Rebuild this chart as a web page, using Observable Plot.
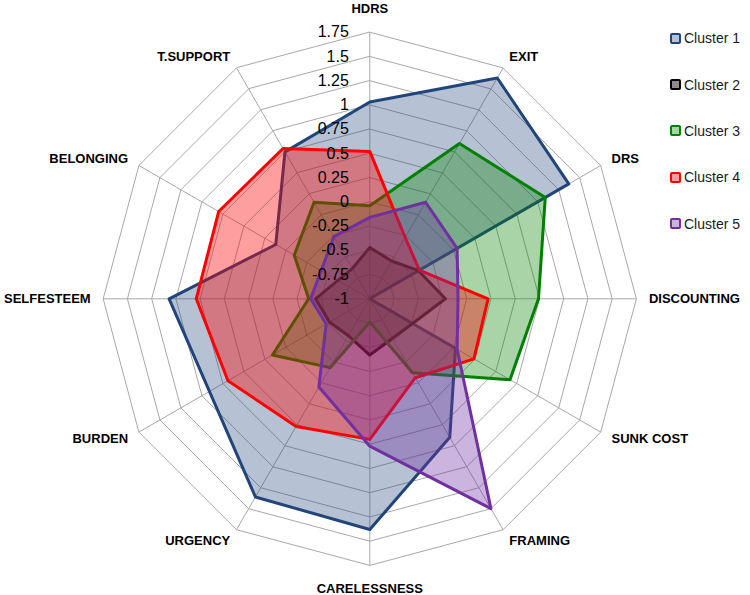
<!DOCTYPE html>
<html>
<head>
<meta charset="utf-8">
<script src="https://cdn.jsdelivr.net/npm/d3@7"></script>
<script src="https://cdn.jsdelivr.net/npm/@observablehq/plot@0.6"></script>
<style>
  body { margin: 0; background: #fff; }
  #wrap { position: relative; width: 750px; height: 595px; font-family: "Liberation Sans", Arial, sans-serif; }
  #legend { position: absolute; left: 670px; top: 15px; }
  .li { display: flex; align-items: center; height: 46.4px; font-size: 14px; color: #1a1a1a; }
  .sw { width: 7px; height: 7px; border: 2.5px solid; border-radius: 2px; margin-right: 3px; }
</style>
</head>
<body>
<div id="wrap"><div id="legend"></div></div>
<script>
// ---- data ----
const axes = ["HDRS","EXIT","DRS","DISCOUNTING","SUNK COST","FRAMING","CARELESSNESS","URGENCY","BURDEN","SELFESTEEM","BELONGING","T.SUPPORT"];
const clusters = ["Cluster 1","Cluster 2","Cluster 3","Cluster 4","Cluster 5"];
const cluster1 = [1.03, 1.63, 1.37, -1.00, 0.02, 0.65, 1.38, 1.36, 0.91, 1.07, 0.12, 0.75];
const cluster2 = [-0.47, -0.55, -0.42, -0.22, -0.49, -0.53, -0.42, -0.56, -0.52, -0.44, -0.62, -0.64];
const cluster3 = [-0.04, 0.85, 1.09, 0.74, 0.67, -0.12, -0.76, -0.18, 0.16, -0.37, -0.10, 0.15];
const cluster4 = [0.52, -0.27, -0.41, 0.22, 0.24, -0.06, 0.45, 0.52, 0.69, 0.79, 0.80, 0.79];
const cluster5 = [-0.16, 0.15, 0.04, -0.09, 0.04, 1.50, 0.52, 0.05, -0.48, -0.39, -0.42, -0.26];
const ticks = [-1, -0.75, -0.5, -0.25, 0, 0.25, 0.5, 0.75, 1, 1.25, 1.5, 1.75];
const tickLabels = ["-1","-0.75","-0.5","-0.25","0","0.25","0.5","0.75","1","1.25","1.5","1.75"];

// ---- styles / layout ----
const lineColors = ["#21457A", "#000000", "#008000", "#FF0000", "#7030A0"];
const fillOpacity = [0.33, 0.32, 0.34, 0.38, 0.36];
const swatchFill = ["#B3C2D7", "#8C8C8C", "#A8D5A8", "#FF9C9C", "#C9B5DC"];
const W = 750, H = 595, CX = 369.3, CY = 298.3, R = 266.6;
const rMin = ticks[0], rMax = ticks[ticks.length - 1];
const n = axes.length;

const pt = (v, i, extraPx = 0) => {
  const r = (v - rMin) / (rMax - rMin) + extraPx / R;
  const a = i * 2 * Math.PI / n;
  return {x: r * Math.sin(a), y: r * Math.cos(a)};
};

const seriesValues = [cluster1, cluster2, cluster3, cluster4, cluster5];

// grid rings
const ringPts = ticks.filter(t => t > rMin).flatMap(t => axes.map((a, i) => ({t, ...pt(t, i)})));

// axis labels
const labelPts = axes.map((a, i) => {
  const s = Math.sin(i * 2 * Math.PI / n);
  const vertical = Math.abs(s) < 0.01;
  const p = pt(rMax, i, vertical ? 23 : 12.5);
  return {label: a, side: vertical ? "middle" : (s > 0 ? "start" : "end"), ...p};
});

const marks = [
  Plot.line(ringPts, {x: "x", y: "y", z: "t", curve: "linear-closed", stroke: "#A8A8A8", strokeWidth: 1}),
  Plot.link(axes, {x1: 0, y1: 0, x2: (d, i) => pt(rMax, i).x, y2: (d, i) => pt(rMax, i).y, stroke: "#A8A8A8", strokeWidth: 1})
];

seriesValues.forEach((vals, k) => {
  marks.push(Plot.line(axes.map((a, i) => pt(vals[i], i)), {
    x: "x", y: "y", curve: "linear-closed",
    stroke: lineColors[k], strokeWidth: 3, strokeLinejoin: "round",
    fill: lineColors[k], fillOpacity: fillOpacity[k]
  }));
});

marks.push(Plot.text(ticks, {
  x: 0, y: t => pt(t, 0).y, text: (d, i) => tickLabels[i],
  textAnchor: "end", dx: -21, fontSize: 16, fill: "#000", lineAnchor: "middle"
}));

["start", "end", "middle"].forEach(side => {
  marks.push(Plot.text(labelPts.filter(d => d.side === side), {
    x: "x", y: "y", text: "label", textAnchor: side, lineAnchor: "middle",
    fontSize: 13, fontWeight: "bold", fill: "#000"
  }));
});

const chart = Plot.plot({
  width: W, height: H, margin: 0,
  x: {domain: [-CX / R, (W - CX) / R], range: [0, W], axis: null},
  y: {domain: [-(H - CY) / R, CY / R], range: [H, 0], axis: null},
  style: {fontFamily: "'Liberation Sans', Arial, sans-serif", background: "#fff"},
  marks
});
document.getElementById("wrap").prepend(chart);

// legend
const lg = document.getElementById("legend");
clusters.forEach((c, k) => {
  const row = document.createElement("div");
  row.className = "li";
  const sw = document.createElement("span");
  sw.className = "sw";
  sw.style.borderColor = lineColors[k];
  sw.style.background = swatchFill[k];
  row.appendChild(sw);
  row.appendChild(document.createTextNode(c));
  lg.appendChild(row);
});
</script>
</body>
</html>
